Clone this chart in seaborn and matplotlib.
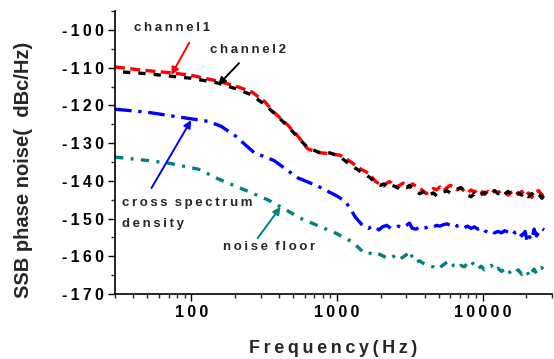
import numpy as np
import pandas as pd
import matplotlib
matplotlib.use("Agg")
import matplotlib.pyplot as plt
import seaborn as sns

# ------------------------------
# DATA
# ------------------------------
hf = [2000, 2100, 2200, 2300, 2400, 2550, 2700, 2850, 3000, 3150, 3300, 3500,
      3700, 3900, 4100, 4350, 4600, 4850, 5100, 5400, 5700, 6000, 6350, 6700,
      7100, 7500, 7900, 8350, 8800, 9300, 9800, 10300, 10900, 11500, 12100,
      12800, 13500, 14200, 15000, 15800, 16700, 17600, 18600, 19600, 20700,
      21800, 23000, 24300, 25600, 26500]

ch1_f = [30, 45, 70, 100, 150, 200, 260, 320, 370, 460, 550, 630, 750, 900,
         1050, 1250, 1450, 1650, 1850] + hf
ch1_db = [-109.8, -110.6, -111.3, -112.0, -113.5, -114.8, -116.4, -119.0, -121.8,
          -125.2, -128.5, -131.5, -132.5, -132.8, -133.2, -135.0, -136.8, -138.0,
          -140.2,
          -141.0, -141.4, -140.6, -140.2, -140.8, -141.6, -141.2, -140.6, -141.0,
          -141.8, -140.8, -141.4, -142.0, -142.6, -143.4, -142.8, -142.0, -142.4,
          -141.6, -142.6, -141.8, -141.2, -141.6, -142.4, -141.8, -142.8, -143.2,
          -142.4, -143.0, -142.2, -142.8, -143.6, -142.8, -143.4, -142.6, -143.2,
          -142.4, -143.0, -143.8, -143.0, -142.6, -143.6, -142.8, -144.0, -143.2,
          -144.4, -143.0, -142.6, -143.8, -142.8]

ch2_f = [30, 50, 70, 100, 150, 200, 260, 320, 370, 460, 550, 630, 750, 900,
         1050, 1240, 1450, 1700, 1850] + hf
ch2_db = [-111.0, -111.6, -112.2, -112.8, -114.0, -115.5, -117.2, -119.8, -122.0,
          -125.5, -128.8, -131.2, -132.4, -132.6, -133.6, -135.8, -137.5, -139.2,
          -140.6,
          -141.2, -140.8, -141.4, -141.8, -141.2, -141.6, -142.2, -141.6, -141.8,
          -141.2, -142.0, -142.8, -143.4, -143.0, -142.6, -143.6, -143.2, -144.0,
          -143.4, -143.0, -142.6, -143.2, -142.8, -142.2, -141.8, -142.6, -143.8,
          -144.2, -143.4, -144.2, -143.6, -143.0, -143.8, -143.2, -142.6, -143.4,
          -142.8, -143.6, -142.8, -143.6, -144.0, -143.2, -143.8, -143.0, -144.2,
          -143.4, -144.4, -143.6, -144.6, -143.8]

csd_f = [30, 50, 80, 130, 160, 200, 270, 370, 540, 740, 1000, 1150, 1340, 1500,
         1650, 1750, 1850, 1950, 2050, 2200, 2350, 2500, 2650, 2800, 3000, 3150,
         3300, 3500, 3700, 3900, 4100, 4350, 4600, 4850, 5100, 5400, 5700, 6000,
         6350, 6700, 7100, 7500, 7900, 8350, 8800, 9300, 9800, 10300, 10900,
         11500, 12100, 12800, 13500, 14200, 15000, 15800, 16700, 17600, 18600,
         19600, 20300, 21000, 21800, 22600, 23500, 24500, 25500, 26500]
csd_db = [-121.0, -121.8, -123.0, -124.2, -125.5, -128.0, -132.5, -134.6, -139.2,
          -141.4, -144.0, -145.5, -149.6, -151.8,
          -152.6, -152.0, -152.4, -153.0, -152.2, -151.8, -152.6, -152.4, -152.0,
          -152.4, -151.8, -151.2, -152.6, -152.8, -152.2, -152.6, -152.4, -152.0,
          -152.2, -151.8, -152.0, -151.6, -151.4, -151.8, -151.4, -152.0, -151.8,
          -152.4, -152.0, -152.6, -152.2, -152.8, -152.4, -153.2, -153.6, -153.2,
          -153.8, -153.4, -153.8, -153.2, -153.6, -153.0, -153.8, -153.2, -154.6,
          -153.4, -156.2, -154.8, -155.6, -152.8, -154.6, -153.4, -152.6, -153.0]

nf_f = [30, 50, 70, 112, 160, 220, 335, 440, 560, 810, 1000, 1280, 1520, 1600,
        1700, 1800, 1900, 2000, 2150, 2300, 2450, 2600, 2800, 3000, 3150, 3300,
        3500, 3700, 3900, 4100, 4350, 4600, 4850, 5100, 5400, 5700, 6000, 6350,
        6700, 7100, 7500, 7900, 8350, 8800, 9300, 9800, 10300, 10900, 11500,
        12100, 12800, 13500, 14200, 15000, 15800, 16700, 17600, 18600, 19600,
        20300, 21000, 21800, 22600, 23500, 24500, 25500, 26500]
nf_db = [-133.7, -134.6, -135.3, -136.9, -139.8, -142.0, -145.0, -147.5, -149.9,
         -152.5, -154.0, -156.2, -158.9, -159.4, -159.2, -159.6, -159.2, -159.6,
         -160.2, -160.6, -160.0, -161.0, -160.4, -159.6, -158.6, -160.2, -161.6,
         -161.2, -161.8, -162.2, -162.6, -162.8, -163.4, -163.0, -162.2, -161.6,
         -161.2, -162.6, -163.2, -162.4, -162.8, -161.8, -161.2, -162.6, -163.4,
         -162.6, -163.6, -163.0, -162.4, -163.8, -163.2, -164.0, -163.4, -164.6,
         -163.8, -164.4, -163.6, -164.8, -163.8, -164.2, -165.4, -164.2, -163.4,
         -164.6, -163.6, -163.0, -163.6]

yticks = [-170, -160, -150, -140, -130, -120, -110, -100]
xticks = [100, 1000, 10000]

# ------------------------------
# PLOT
# ------------------------------
sns.set_style("ticks")
plt.rcParams["font.family"] = ["Liberation Sans", "DejaVu Sans"]

sp = "\u2009"

fig = plt.figure(figsize=(5.54, 3.59), dpi=100)
ax = fig.add_axes([0.2076, 0.181, 0.7888, 0.788])

lw = 2.4
sns.lineplot(x=ch1_f, y=ch1_db, ax=ax, color="#ff0000", lw=lw,
             linestyle=(0, (3, 1.6)), estimator=None, sort=False)
sns.lineplot(x=ch2_f, y=ch2_db, ax=ax, color="black", lw=lw,
             linestyle=(2.2, (2.2, 2.4)), estimator=None, sort=False)
sns.lineplot(x=csd_f, y=csd_db, ax=ax, color="#0000ff", lw=lw,
             linestyle=(0, (5, 2, 1, 2)), estimator=None, sort=False)
sns.lineplot(x=nf_f, y=nf_db, ax=ax, color="#008080", lw=lw,
             linestyle=(0, (2.5, 2.2, 0.9, 2.2)), estimator=None, sort=False)

ax.set_xscale("log")
ax.set_xlim(30, 30000)
ax.set_ylim(-170, -95)
ax.set_yticks(yticks)
ax.set_yticklabels([sp.join(str(t)) for t in yticks])
ax.set_yticks(np.arange(-170, -94, 5), minor=True)
ax.set_xticks(xticks)
ax.set_xticklabels([sp.join(str(t)) for t in xticks])

ax.tick_params(axis="both", which="major", direction="out", length=5, width=1,
               labelsize=11.5, pad=3, colors="black")
ax.tick_params(axis="both", which="minor", direction="out", length=3, width=1)
for lab in ax.get_xticklabels() + ax.get_yticklabels():
    lab.set_fontweight("bold")

sns.despine(ax=ax)
for s in ["left", "bottom"]:
    ax.spines[s].set_linewidth(1.2)
    ax.spines[s].set_color("black")

ax.set_xlabel(sp.join("Frequency(Hz)"), fontsize=13, fontweight="bold", labelpad=14)
fig.text(0.043, 0.526, "SSB phase noise(  dBc/Hz)", rotation=90, fontsize=14.5,
         fontweight="bold", ha="center", va="center")

# ------------------------------
# ANNOTATIONS
# ------------------------------
txt_kw = dict(fontsize=9.5, fontweight="bold", ha="left", va="center")

def arrow(tail, tip, color):
    ax.annotate("", xy=tip, xytext=tail,
                arrowprops=dict(arrowstyle="-|>", color=color, lw=1.4,
                                mutation_scale=11, shrinkA=0, shrinkB=0))

ax.text(40.8, -99.5, sp.join("channel1"), **txt_kw)
arrow((97, -103.4), (73, -111.9), "#ff0000")
ax.text(135, -105.3, sp.join("channel2"), **txt_kw)
arrow((213, -108.8), (153, -114.6), "black")
ax.text(33.3, -145.9, sp.join("cross") + "  " + sp.join("spectrum"), **txt_kw)
ax.text(33.3, -151.5, sp.join("density"), **txt_kw)
arrow((53.4, -141.9), (100, -123.9), "#0000ff")
ax.text(165, -157.6, sp.join("noise") + "  " + sp.join("floor"), **txt_kw)
arrow((286, -155.2), (411, -146.9), "#008080")

fig.savefig("out.png", dpi=100)
